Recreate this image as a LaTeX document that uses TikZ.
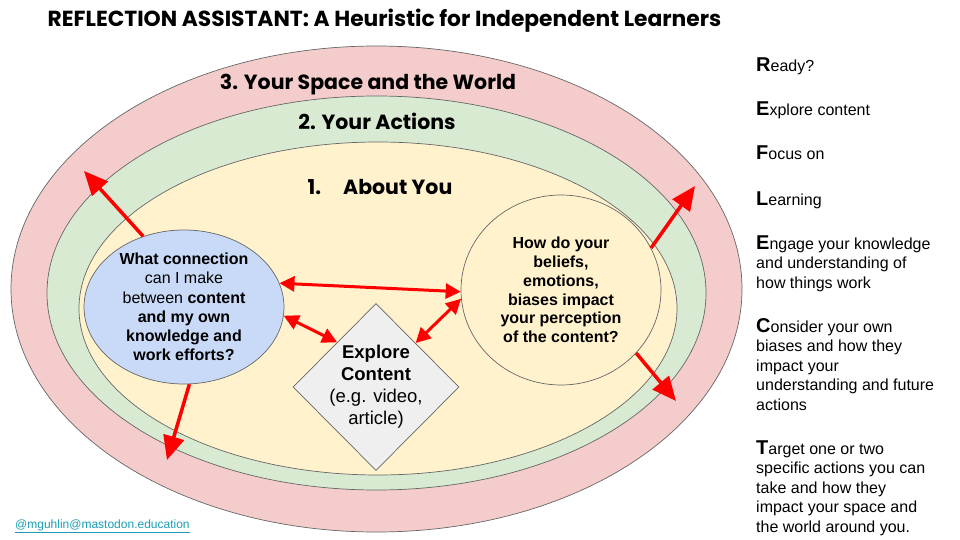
\documentclass[tikz,border=0pt]{standalone}
\usepackage{fontspec}
\setmainfont{Liberation Sans}
\newfontfamily\headfont{Poppins}
\usetikzlibrary{shapes.geometric,arrows.meta}

\definecolor{world}{HTML}{F4CCCC}
\definecolor{actions}{HTML}{D9EAD3}
\definecolor{you}{HTML}{FFF2CC}
\definecolor{connectblue}{HTML}{C9DAF8}
\definecolor{contentgray}{HTML}{EFEFEF}
\definecolor{outline}{HTML}{666666}
\definecolor{linkteal}{HTML}{1A9DB3}

\newcommand{\firstletter}[1]{{\fontsize{20}{20}\selectfont\bfseries #1}}

\begin{document}
\begin{tikzpicture}[x=1pt, y=-1pt,
  ring/.style={draw=outline, line width=0.7pt},
  heading/.style={anchor=base, inner sep=0pt, font={\headfont\bfseries\fontsize{20.5}{24}\selectfont}},
  bubble/.style={ellipse, draw=outline, line width=0.7pt, inner sep=-6pt, align=center,
                 font={\fontsize{16}{19.2}\selectfont}},
  sidetext/.style={anchor=base west, inner sep=0pt, align=left, font={\fontsize{16}{19.4}\selectfont}},
  outward/.style={draw=red, line width=3.5pt, -{Triangle[length=24pt,width=21pt]}},
  twoway/.style={draw=red, line width=3pt, {Triangle[length=15pt,width=15pt]}-{Triangle[length=15pt,width=15pt]}}
]

\useasboundingbox (0,0) rectangle (960,540);

% rings
\draw[ring, fill=world] (376.5,289) ellipse [x radius=365.5, y radius=243];
\draw[ring, fill=actions] (376.5,293) ellipse [x radius=329.5, y radius=197];
\draw[ring, fill=you] (378,308.5) ellipse [x radius=299, y radius=166.5];

\node (title) at (384.5,27) [heading, font={\headfont\bfseries\fontsize{21.8}{24}\selectfont}] {REFLECTION ASSISTANT: A Heuristic for Independent Learners};
\node (ringworld) at (368,90) [heading] {3. Your Space and the World};
\node (ringactions) at (377,130) [heading] {2. Your Actions};
\node (ringyou) at (380,194) [heading] {1.\hspace{22pt}About You};

% inner shapes
\node (connect) at (184,307) [bubble, fill=connectblue, minimum width=200, minimum height=154]
  {\textbf{What connection}\\can I make\\between \textbf{content}\\\textbf{and my own}\\\textbf{knowledge and}\\\textbf{work efforts?}};
\node (bias) at (561,290) [bubble, fill=you, minimum width=200, minimum height=190, font={\bfseries\fontsize{16}{18.8}\selectfont}]
  {How do your\\beliefs,\\emotions,\\biases impact\\your perception\\of the content?};
\node (explore) at (376,387) [diamond, draw=outline, line width=0.7pt, fill=contentgray, inner sep=-4pt,
  minimum width=166, minimum height=167, align=center, font={\fontsize{18.5}{22}\selectfont}]
  {\textbf{Explore}\\\textbf{Content}\\(e.g. video,\\article)};

\coordinate (worldNW) at (84,171);
\coordinate (worldSW) at (167,460);
\coordinate (worldNE) at (695,186);
\coordinate (worldSE) at (676,401);

\draw[outward] (connect.120) -- (worldNW);
\draw[outward] (connect.-86) -- (worldSW);
\draw[outward] (bias.25) -- (worldNE);
\draw[outward] (bias.-40) -- (worldSE);

\draw[twoway] (connect.14) -- (bias.181);
\draw[twoway] (connect.-5) -- (explore.131);
\draw[twoway] (bias.185) -- (explore.48);

% REFLECT column (multi-line nodes sit on their last line)
\node (stepR) at (756,72) [sidetext] {\firstletter{R}eady?};
\node (stepE) at (756,116) [sidetext] {\firstletter{E}xplore content};
\node (stepF) at (756,160) [sidetext] {\firstletter{F}ocus on};
\node (stepL) at (756,205) [sidetext] {\firstletter{L}earning};
\node (stepEngage) at (756,288) [sidetext] {\firstletter{E}ngage your knowledge\\and understanding of\\how things work};
\node (stepC) at (756,410) [sidetext] {\firstletter{C}onsider your own\\biases and how they\\impact your\\understanding and future\\actions};
\node (stepT) at (756,532) [sidetext] {\firstletter{T}arget one or two\\specific actions you can\\take and how they\\impact your space and\\the world around you.};

\node (handle) at (15,528) [anchor=base west, inner sep=0pt, text=linkteal, font={\fontsize{12}{14}\selectfont}] {\underline{@mguhlin@mastodon.education}};

\end{tikzpicture}
\end{document}
